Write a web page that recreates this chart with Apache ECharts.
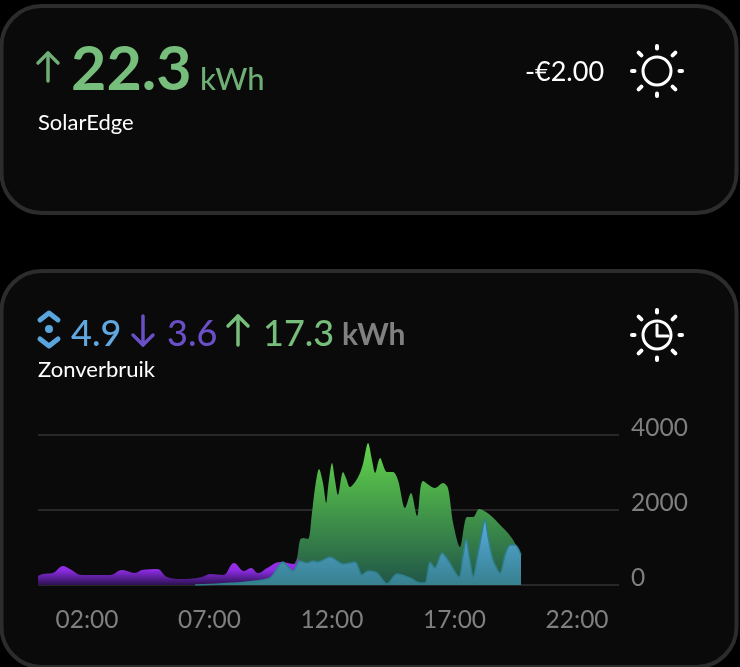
<!DOCTYPE html>
<html>
<head>
<meta charset="utf-8">
<style>
html, body { margin: 0; padding: 0; background: #000; }
#chart { width: 740px; height: 667px; }
</style>
<script src="https://cdn.jsdelivr.net/npm/echarts@6/dist/echarts.min.js"></script>
</head>
<body>
<div id="chart"></div>
<script>
// values: hour of day, watts
var tickHours = [2, 7, 12, 17, 22];

var importHours = [0, 0.2, 0.6, 1.02, 1.3, 1.8, 2.94, 3.43, 3.96, 4.24, 4.86, 5.27, 5.92, 6.69, 7.02, 7.55, 8.0, 8.41, 8.69, 8.98, 9.35, 9.88, 10.49, 10.61, 10.69];
var importWatts = [240, 293, 320, 507, 427, 267, 267, 400, 320, 400, 427, 213, 160, 213, 293, 267, 587, 373, 453, 320, 453, 613, 560, 720, 0];

var solarHours = [10.41, 10.57, 10.69, 10.82, 11.02, 11.18, 11.31, 11.47, 11.63, 11.76, 11.84, 12.0, 12.12, 12.24, 12.45, 12.57, 12.73, 12.94, 13.14, 13.27, 13.47, 13.63, 13.76, 13.96, 14.24, 14.49, 14.69, 14.98, 15.22, 15.47, 15.71, 16.2, 16.53, 16.73, 16.94, 17.22, 17.51, 17.76, 18.0, 18.45, 18.86, 19.14, 19.39, 19.71];
var solarWatts = [500, 720, 1200, 1253, 1227, 1920, 2613, 3093, 2720, 2187, 2613, 3253, 2800, 2400, 3013, 2853, 2613, 2747, 2987, 3253, 3787, 3333, 2987, 3387, 3013, 3013, 2800, 2053, 2453, 1840, 2773, 2587, 2720, 2587, 1653, 1013, 1813, 1813, 2027, 1867, 1600, 1413, 1200, 800];

var selfHours = [6.41, 7.43, 8.53, 9.47, 9.99, 10.41, 10.69, 10.98, 11.22, 11.43, 11.92, 12.45, 12.94, 13.22, 13.47, 13.84, 14.24, 14.65, 15.18, 15.59, 15.8, 16.0, 16.2, 16.49, 16.73, 17.18, 17.33, 17.47, 17.61, 17.76, 17.96, 18.12, 18.24, 18.37, 18.57, 18.86, 19.06, 19.27, 19.47, 19.71];
var selfWatts = [0, 27, 80, 187, 613, 373, 640, 587, 640, 613, 747, 560, 613, 267, 373, 320, 27, 293, 187, 53, 53, 613, 453, 853, 667, 213, 720, 1227, 720, 213, 853, 1413, 1760, 1280, 667, 320, 800, 1067, 1067, 800];

function pairs(xs, ys) {
    return xs.map(function (x, i) { return [x, ys[i]]; });
}

function gradient(top, bottom) {
    return new echarts.graphic.LinearGradient(0, 0, 0, 1, [
        { offset: 0, color: top },
        { offset: 1, color: bottom }
    ]);
}

var fontName = 'Lato, sans-serif';

function label(text, x, y, size, color, weight, align) {
    return {
        type: 'text',
        z: 5,
        style: {
            text: text,
            x: x,
            y: y,
            fill: color,
            align: align || 'left',
            verticalAlign: 'middle',
            font: (weight || 'normal') + ' ' + size + 'px ' + fontName
        }
    };
}

function card(y, h) {
    return {
        type: 'rect',
        z: -10,
        shape: { x: 1.5, y: y, width: 735, height: h, r: 40 },
        style: { fill: '#0a0a0a', stroke: '#2c2c2c', lineWidth: 4 }
    };
}

function stroke(points, color, width) {
    return {
        type: 'polyline',
        z: 5,
        shape: { points: points },
        style: { stroke: color, lineWidth: width, fill: null, lineCap: 'round', lineJoin: 'round' }
    };
}

function arrow(x, top, bottom, color, down) {
    var tip = down ? bottom : top;
    var wing = down ? tip - 10 : tip + 10;
    return [
        stroke([[x, top], [x, bottom]], color, 3.5),
        stroke([[x - 10, wing], [x, tip], [x + 10, wing]], color, 3.5)
    ];
}

function sun(cx, cy) {
    var parts = [{
        type: 'circle',
        z: 5,
        shape: { cx: cx, cy: cy, r: 14 },
        style: { fill: null, stroke: '#fff', lineWidth: 3 }
    }];
    for (var i = 0; i < 8; i++) {
        var a = i * Math.PI / 4;
        var inner = i % 2 ? 22 : 22.5;
        var outer = i % 2 ? 26 : 25;
        parts.push(stroke([
            [cx + inner * Math.cos(a), cy + inner * Math.sin(a)],
            [cx + outer * Math.cos(a), cy + outer * Math.sin(a)]
        ], '#fff', 4));
    }
    return parts;
}

var graphics = [card(6, 207), card(271, 396)];
graphics = graphics.concat(
    arrow(48, 53, 81, '#6fae75', false),
    [
        label('22.3', 71, 70, 61, '#77bd7c', 'bold'),
        label('kWh', 200, 80, 31, '#6fae75', '500'),
        label('SolarEdge', 38, 123, 22, '#ffffff'),
        label('-€2.00', 525, 72, 27, '#ffffff')
    ],
    sun(657, 71),
    sun(657, 335),
    [
        stroke([[657, 325], [657, 336], [668, 336]], '#fff', 3),
        // expand icon
        stroke([[40, 320], [49, 313], [58, 320]], '#5aa5dc', 5),
        stroke([[40, 339], [49, 346], [58, 339]], '#5aa5dc', 5),
        { type: 'circle', z: 5, shape: { cx: 49, cy: 329, r: 4 }, style: { fill: '#5aa5dc' } },
        label('4.9', 71, 334, 36, '#62a8e0', '500'),
        label('3.6', 167, 334, 36, '#6b4fc6', '500'),
        label('17.3', 263, 334, 36, '#77bd7c', '500'),
        label('kWh', 342, 335, 30, '#808080', 'bold'),
        label('Zonverbruik', 38, 370, 22, '#ffffff')
    ],
    arrow(143, 316, 345, '#6b4fc6', true),
    arrow(238, 316, 345, '#77bd7c', false)
);

var chart = echarts.init(document.getElementById('chart'));

var option = {
    backgroundColor: '#000',
    animation: false,
    graphic: { elements: graphics },
    grid: { left: 38, right: 121, top: 435, height: 150 },
    xAxis: {
        type: 'value',
        min: 0,
        max: 23.71,
        splitLine: { show: false },
        axisLine: { show: false },
        axisTick: { show: false },
        axisLabel: {
            customValues: tickHours,
            margin: 23,
            color: '#7f7f7f',
            fontFamily: fontName,
            fontSize: 24.5,
            formatter: function (v) { return (v < 10 ? '0' : '') + v + ':00'; }
        }
    },
    yAxis: {
        type: 'value',
        position: 'right',
        min: 0,
        max: 4000,
        interval: 2000,
        axisLine: { show: false },
        axisTick: { show: false },
        splitLine: { lineStyle: { color: '#333333', width: 1.5 } },
        axisLabel: {
            margin: 12,
            color: '#7f7f7f',
            fontFamily: fontName,
            fontSize: 24.5,
            verticalAlign: 'bottom',
            lineHeight: 13,
            formatter: function (v) { return String(v); }
        }
    },
    series: [
        {
            name: 'Import',
            type: 'line',
            data: pairs(importHours, importWatts),
            smooth: 0.4,
            showSymbol: false,
            z: 3,
            lineStyle: { width: 0 },
            areaStyle: {
                opacity: 1,
                color: new echarts.graphic.LinearGradient(0, 0, 0, 1, [
                    { offset: 0, color: '#a030f0' },
                    { offset: 0.45, color: '#8c2ce2' },
                    { offset: 1, color: '#2a1150' }
                ])
            }
        },
        {
            name: 'Solar',
            type: 'line',
            data: pairs(solarHours, solarWatts),
            smooth: 0.3,
            showSymbol: false,
            z: 2,
            lineStyle: { width: 0 },
            areaStyle: { opacity: 1, color: gradient('#62d64a', '#205548') }
        },
        {
            name: 'Self',
            type: 'line',
            data: pairs(selfHours, selfWatts),
            smooth: 0.3,
            showSymbol: false,
            z: 4,
            lineStyle: { width: 1.5, color: '#2f7f8c' },
            areaStyle: { opacity: 1, color: gradient('#58ace0', '#37808f') }
        }
    ]
};

chart.setOption(option);
</script>
</body>
</html>
